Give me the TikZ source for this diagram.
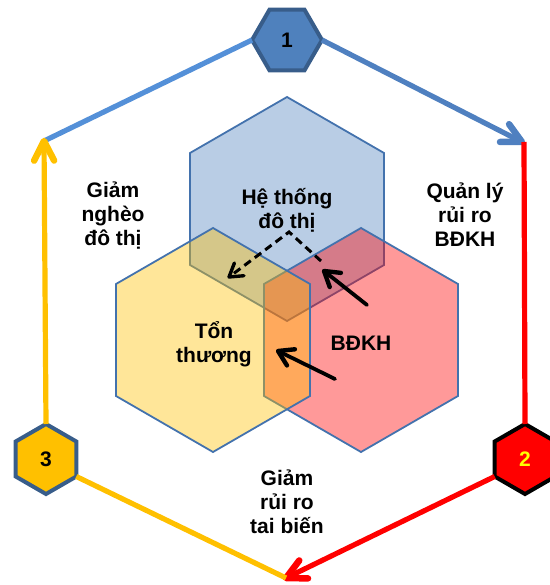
\documentclass[tikz,border=0pt]{standalone}
\usepackage{fontspec}
\setmainfont{Liberation Sans}
\usetikzlibrary{calc,shapes.geometric}

\definecolor{officeblue}{HTML}{4F81BD}
\definecolor{darkblue}{HTML}{385D8A}
\definecolor{edgeblue}{HTML}{4372AD}
\definecolor{lineblueL}{HTML}{5490D8}
\definecolor{lineblueR}{HTML}{4F80C0}
\definecolor{gold}{HTML}{FFC000}
\definecolor{brightred}{HTML}{FF0000}
\definecolor{brightyellow}{HTML}{FFFF00}

\tikzset{
  label text/.style={font=\bfseries\fontsize{21}{24}\selectfont, align=center, inner sep=0pt},
  smallhex/.style={regular polygon, regular polygon sides=6, minimum size=70pt,
    inner sep=0pt, outer sep=0pt, line width=4pt, font=\bfseries\fontsize{21}{24}\selectfont},
  bighex/.style={regular polygon, regular polygon sides=6, shape border rotate=30,
    minimum size=224pt, inner sep=0pt, outer sep=0pt, line width=1.8pt,
    draw=edgeblue, fill opacity=0.4},
  ring/.style={line width=5.2pt},
  ringhead/.style={line width=6.5pt},
  pointer/.style={line width=3.8pt, line cap=round},
  barb/.style={line cap=round, line join=round, dash pattern=on 100pt off 0pt},
}

% open V arrowhead: #1 style, #2 tip, #3 point the shaft comes from, #4 arm length, #5 half angle
\newcommand\vhead[5]{%
  \draw[#1, barb] ($(#2)!#4!#5:(#3)$) -- (#2) -- ($(#2)!#4!-#5:(#3)$);}

\begin{document}
\begin{tikzpicture}[x=1pt,y=-1pt]
\useasboundingbox (0,0) rectangle (549,585);

% three overlapping theme hexagons
\node[bighex, fill=officeblue] (urban) at (287,209) {};
\node[bighex, fill=brightred] (climate) at (361,340) {};
\node[bighex, fill=gold] (vuln) at (213,340) {};

\node[label text] (t-urban) at (287,210) {Hệ thống\\đô thị};
\node[label text] (t-vuln) at (214,344) {Tổn\\thương};
\node[label text] (t-climate) at (361,343) {BĐKH};

% outer cycle markers
\node[smallhex, draw=darkblue, fill=officeblue] (h1) at (287,40) {1};
\node[smallhex, shape border rotate=30, draw=black, fill=brightred, text=brightyellow] (h2) at (525,459) {2};
\node[smallhex, shape border rotate=30, draw=darkblue, fill=gold] (h3) at (46,459) {3};

% corners of the outer cycle
\coordinate (c-ul) at (44,141);
\coordinate (c-ur) at (522,142);
\coordinate (c-b) at (286,578);

\draw[ring, lineblueL] (h1.180) -- (c-ul);
\draw[ring, lineblueR] (h1.0) -- (c-ur);
\vhead{ringhead, lineblueR}{c-ur}{h1.0}{22pt}{27}
\draw[ring, brightred] ($(c-ur)+(2,0)$) -- (h2.90);
\draw[ring, brightred] (h2.210) -- (c-b);
\vhead{ringhead, brightred}{c-b}{h2.210}{22pt}{27}
\draw[ring, gold] (h3.330) -- (c-b);
\draw[ring, gold] (h3.90) -- (c-ul);
\vhead{ringhead, gold}{c-ul}{h3.90}{22pt}{27}

% cycle labels
\node[label text] (t-poverty) at (113,216) {Giảm\\nghèo\\đô thị};
\node[label text] (t-risk) at (465,215) {Quản lý\\rủi ro\\BĐKH};
\node[label text] (t-disaster) at (287,502) {Giảm\\rủi ro\\tai biến};

% influence arrows
\coordinate (d-start) at (321,261);
\coordinate (d-bend) at (289,232);
\coordinate (d-end) at (229,277);
\draw[pointer, line width=3pt, line cap=butt, dash pattern=on 8pt off 5pt] (d-start) -- (d-bend) -- (d-end);
\vhead{pointer, line width=3.4pt}{d-end}{d-bend}{15pt}{32}

\coordinate (a1-tail) at (367,305);
\coordinate (a1-tip) at (324,271);
\draw[pointer] (a1-tail) -- (a1-tip);
\vhead{pointer, line width=4.4pt}{a1-tip}{a1-tail}{17pt}{32}

\coordinate (a2-tail) at (335,379);
\coordinate (a2-tip) at (278,351);
\draw[pointer] (a2-tail) -- (a2-tip);
\vhead{pointer, line width=4.4pt}{a2-tip}{a2-tail}{17pt}{32}
\end{tikzpicture}
\end{document}
